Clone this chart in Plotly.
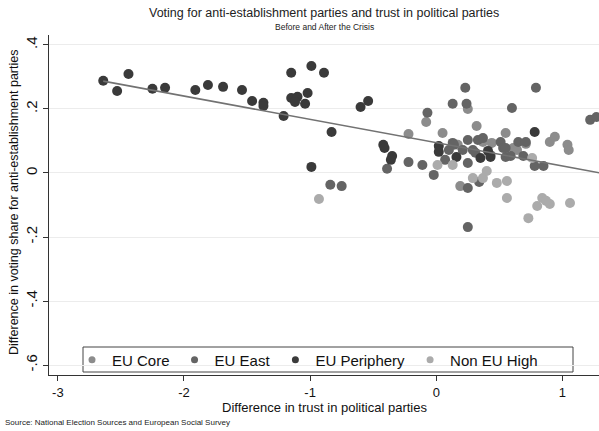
import plotly.graph_objects as go

# ---- data ----
periph_x = [-2.64, -2.53, -2.44, -2.25, -2.15, -1.91, -1.81, -1.69, -1.54, -1.46, -1.37, -1.37,
            -1.21, -1.15, -0.99, -0.89, -1.15, -1.10, -1.12, -1.02, -1.04, -0.83, -0.99, -0.60,
            -0.54, -0.42, -0.41, -0.35, -0.36, 0.02, 0.02, 0.16, 0.41, 0.43, 0.78, 0.35]
periph_y = [0.288, 0.256, 0.309, 0.263, 0.266, 0.259, 0.275, 0.269, 0.259, 0.225, 0.219, 0.209,
            0.178, 0.313, 0.334, 0.313, 0.234, 0.238, 0.222, 0.250, 0.216, 0.128, 0.019, 0.206,
            0.225, 0.088, 0.078, 0.053, 0.041, 0.084, 0.066, 0.050, 0.069, 0.050, 0.128, 0.047]

east_x = [-0.84, -0.75, -0.07, -0.39, -0.22, -0.11, -0.02, 0.13, 0.23, 0.24, 0.13, 0.14, 0.25,
          0.33, 0.37, 0.51, 0.53, 0.60, 0.55, 0.25, 0.25, 0.34, 0.25, 0.31, 0.43, 0.79, 0.65,
          0.71, 0.55, 0.59, 0.69, 0.78, 0.85, 1.22, 1.27, 0.21, 0.29, 0.07, 0.10]
east_y = [-0.037, -0.041, 0.188, 0.013, 0.034, 0.025, -0.006, 0.216, 0.266, 0.216, 0.094, 0.088,
          0.103, 0.103, 0.109, 0.097, 0.078, 0.203, 0.050, 0.031, -0.047, -0.028, -0.169, 0.063,
          0.056, 0.266, 0.097, 0.097, 0.078, 0.053, 0.053, 0.022, 0.022, 0.166, 0.175, 0.072,
          0.072, 0.041, 0.072]

core_x = [-0.08, -0.22, 0.05, 0.25, 0.32, 0.19, 0.37, 0.44, 0.55, 0.61, 0.64, 0.71, 0.90, 0.94,
          1.04, 1.05, 0.17]
core_y = [0.159, 0.122, 0.125, 0.200, 0.147, -0.041, 0.097, 0.094, 0.125, 0.078, 0.072, 0.091,
          0.097, 0.113, 0.088, 0.072, 0.088]

noneu_x = [-0.93, 0.01, 0.13, 0.29, 0.37, 0.40, 0.48, 0.56, 0.56, 0.76, 0.73, 0.80, 0.84, 0.87,
           0.90, 1.06]
noneu_y = [-0.081, 0.025, 0.025, -0.016, -0.016, 0.006, -0.031, -0.025, -0.078, 0.047, -0.141,
           -0.103, -0.078, -0.087, -0.097, -0.094]

fit_x = [-2.64, 1.30]
fit_y = [0.287, 0.0]

y_ticks = [-0.6, -0.4, -0.2, 0, 0.2, 0.4]
y_labels = ["-.6", "-.4", "-.2", "0", ".2", ".4"]
x_ticks = [-3, -2, -1, 0, 1]
x_labels = ["-3", "-2", "-1", "0", "1"]

FONT = "Liberation Sans, Arial, sans-serif"

W, H = 599, 431
# plot area in pixels
L, R, T, B = 49, 599, 35, 375
pw, ph = float(R - L), float(B - T)
def px_x(s):
    return (s - L) / pw
def px_y(s):
    return (B - s) / ph

fig = go.Figure()
series = [
    ("EU Core", core_x, core_y, "#8c8c8c"),
    ("EU East", east_x, east_y, "#646464"),
    ("EU Periphery", periph_x, periph_y, "#3a3a3a"),
    ("Non EU High", noneu_x, noneu_y, "#ababab"),
]
for name, xs, ys, col in series:
    fig.add_trace(go.Scatter(x=xs, y=ys, mode="markers", name=name, showlegend=False,
                             legendgroup=name,
                             marker=dict(size=10, color=col, line=dict(width=0))))

fig.add_trace(go.Scatter(x=fit_x, y=fit_y, mode="lines", showlegend=False,
                         line=dict(color="#727272", width=1.6)))

# legend entries with smaller key markers
for name, xs, ys, col in series:
    fig.add_trace(go.Scatter(x=[None], y=[None], mode="markers", name=name, legendgroup=name,
                             showlegend=True, marker=dict(size=7, color=col)))

fig.update_layout(
    width=W, height=H,
    margin=dict(l=L, r=W - R, t=T, b=H - B, autoexpand=False),
    paper_bgcolor="white", plot_bgcolor="white",
    font=dict(family=FONT, color="#222"),
    showlegend=True,
    legend=dict(orientation="h", x=px_x(72), xanchor="left", y=px_y(360), yanchor="middle",
                borderwidth=0, bgcolor="rgba(0,0,0,0)",
                font=dict(size=15, family=FONT, color="#111"),
                itemwidth=30, tracegroupgap=0),
    xaxis=dict(range=[-3.07, 1.29], tickvals=x_ticks, ticktext=x_labels, automargin=False,
               showgrid=False, zeroline=False, showline=True, linecolor="#333", linewidth=1,
               ticks="outside", ticklen=5, tickcolor="#333",
               tickfont=dict(size=13, color="#111")),
    yaxis=dict(range=[-0.631, 0.431], tickvals=y_ticks, ticktext=y_labels, tickangle=-90,
               automargin=False,
               showgrid=True, gridcolor="#ececec", gridwidth=1, zeroline=False,
               showline=True, linecolor="#333", linewidth=1,
               ticks="outside", ticklen=5, tickcolor="#333",
               tickfont=dict(size=15, color="#111")),
    shapes=[dict(type="rect", xref="paper", yref="paper",
                 x0=px_x(83), x1=px_x(573), y0=px_y(372), y1=px_y(347),
                 line=dict(color="#444", width=1), fillcolor="white", layer="below")],
    annotations=[
        dict(text="Voting for anti-establishment parties and trust in political parties",
             xref="paper", yref="paper", x=px_x(324), y=px_y(13),
             xanchor="center", yanchor="middle", showarrow=False,
             font=dict(size=12.5, color="#222")),
        dict(text="Before and After the Crisis",
             xref="paper", yref="paper", x=px_x(324), y=px_y(27),
             xanchor="center", yanchor="middle", showarrow=False,
             font=dict(size=8.5, color="#222")),
        dict(text="Difference in trust in political parties",
             xref="paper", yref="paper", x=px_x(324), y=px_y(407),
             xanchor="center", yanchor="middle", showarrow=False,
             font=dict(size=13, color="#111")),
        dict(text="Difference in voting share for anti-establishment parties",
             xref="paper", yref="paper", x=px_x(14), y=px_y(203), textangle=-90,
             xanchor="center", yanchor="middle", showarrow=False,
             font=dict(size=12.5, color="#111")),
        dict(text="Source: National Election Sources and European Social Survey",
             xref="paper", yref="paper", x=px_x(3), y=px_y(422),
             xanchor="left", yanchor="middle", showarrow=False,
             font=dict(size=8, color="#222")),
    ],
)

fig.write_html("out.html",
               config={"displayModeBar": False},
               post_script="document.body.style.margin='0';document.body.style.overflow='hidden';")
